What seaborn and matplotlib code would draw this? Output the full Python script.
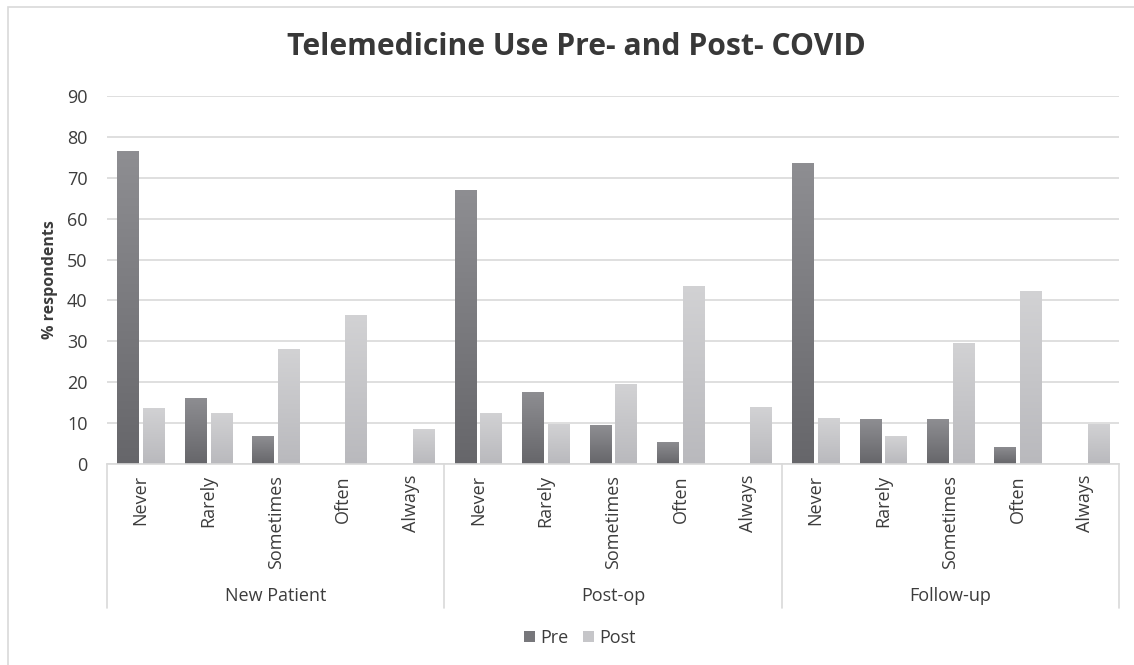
import numpy as np
import pandas as pd
import matplotlib
matplotlib.use("Agg")
import matplotlib.pyplot as plt
import seaborn as sns
from matplotlib.patches import Rectangle
from matplotlib.lines import Line2D
from matplotlib.colors import LinearSegmentedColormap
from matplotlib.transforms import blended_transform_factory

# ---------------- data ----------------
groups = ["New Patient", "Post-op", "Follow-up"]
frequencies = ["Never", "Rarely", "Sometimes", "Often", "Always"]
series = ["Pre", "Post"]
pre_values = [76.5, 16.2, 6.8, 0, 0,
              67.1, 17.7, 9.5, 5.4, 0,
              73.5, 10.9, 10.9, 4.2, 0]
post_values = [13.8, 12.5, 28.1, 36.4, 8.6,
               12.5, 9.9, 19.5, 43.6, 13.9,
               11.2, 6.8, 29.5, 42.2, 9.9]
y_ticks = list(range(0, 100, 10))
title = "Telemedicine Use Pre- and Post- COVID"
y_label = "% respondents"

# ---------------- table ----------------
slots = [f"{g}|{f}" for g in groups for f in frequencies]
rows = []
for name, vals in zip(series, [pre_values, post_values]):
    for s, v in zip(slots, vals):
        rows.append({"slot": s, "series": name, "value": v})
df = pd.DataFrame(rows)

# ---------------- style ----------------
sns.set_theme(style="white")
plt.rcParams["font.family"] = ["Open Sans", "DejaVu Sans"]
text_color = "#3c3c3c"
grid_color = "#d9d9d9"
palette = {"Pre": "#77777b", "Post": "#c6c6c9"}
grad = {"Pre": ("#66666a", "#8e8e92"), "Post": ("#b9b9bd", "#d2d2d4")}

W, H = 1134, 665
fig = plt.figure(figsize=(W / 100, H / 100), dpi=100)
ax = fig.add_axes([107 / W, 1 - 464 / H, (1119 - 107) / W, (464 - 96) / H])

sns.barplot(data=df, x="slot", y="value", hue="series", order=slots,
            hue_order=series, palette=palette, width=0.76, gap=0.18,
            linewidth=0, legend=False, ax=ax)

# gradient fill for each bar
xlim = (-0.5, len(slots) - 0.5)
ylim = (0, 90)
gimg = np.linspace(0, 1, 256).reshape(-1, 1)
cmaps = {k: LinearSegmentedColormap.from_list(k, list(v)) for k, v in grad.items()}
for container, name in zip(ax.containers, series):
    for bar in container:
        h = bar.get_height()
        if h <= 0:
            continue
        x0 = bar.get_x()
        w = bar.get_width()
        im = ax.imshow(gimg, extent=[x0, x0 + w, 0, h], origin="lower",
                       cmap=cmaps[name], aspect="auto", zorder=bar.get_zorder() + 0.1)
        im.set_clip_path(bar)
ax.set_xlim(*xlim)
ax.set_ylim(*ylim)
ax.set_aspect("auto")

# axes styling
ax.set_yticks(y_ticks)
ax.set_yticklabels([str(t) for t in y_ticks], fontsize=13, color=text_color)
ax.yaxis.grid(True, color=grid_color, linewidth=1.2)
ax.set_axisbelow(True)
for side in ["left", "right", "top"]:
    ax.spines[side].set_visible(False)
ax.spines["bottom"].set_color(grid_color)
ax.spines["bottom"].set_linewidth(1.2)
ax.set_xticks(range(len(slots)))
ax.set_xticklabels([s.split("|")[1] for s in slots], rotation=90,
                   fontsize=13, color=text_color, va="top")
ax.tick_params(axis="both", length=0)
ax.tick_params(axis="x", pad=8)
ax.tick_params(axis="y", pad=14)
ax.set_xlabel("")
ax.set_ylabel("")

# group labels and separators
trans = blended_transform_factory(ax.transData, fig.transFigure)
for i, g in enumerate(groups):
    ax.text(i * len(frequencies) + (len(frequencies) - 1) / 2, 1 - 596 / H, g,
            transform=trans, ha="center", va="center", fontsize=13, color=text_color)
for i in range(len(groups) + 1):
    xb = i * len(frequencies) - 0.5
    ax.add_line(Line2D([xb, xb], [1 - 464 / H, 1 - 608 / H], transform=trans,
                       color=grid_color, linewidth=1.2, clip_on=False))

# title, y label
fig.text(576.5 / W, 1 - 47 / H, title, ha="center", va="center",
         fontsize=21.7, fontweight="bold", color="#383838")
fig.text(50 / W, 1 - 280 / H, y_label, rotation=90, ha="center", va="center",
         fontsize=11.5, fontweight="bold", color=text_color)

# legend
handles = [Rectangle((0, 0), 1, 1, facecolor=palette[s], edgecolor="none") for s in series]
fig.legend(handles, series, loc="center", bbox_to_anchor=(580 / W, 1 - 638 / H),
           ncol=2, frameon=False, fontsize=13, handlelength=0.6, handleheight=0.6,
           handletextpad=0.3, columnspacing=0.8, labelcolor=text_color)

# outer border (top and left visible)
fig.patches.append(Rectangle((8 / W, -0.05), 1.2, 1 - 7 / H + 0.05, fill=False,
                             edgecolor=grid_color, linewidth=1.2,
                             transform=fig.transFigure, figure=fig))

fig.savefig("out.png", dpi=100, facecolor="white")
